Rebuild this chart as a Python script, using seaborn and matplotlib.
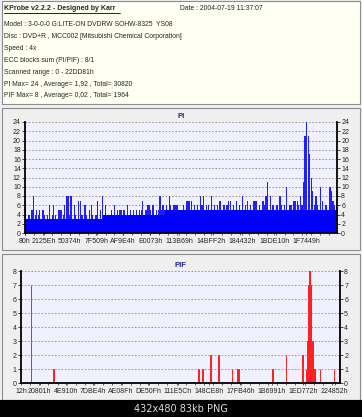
import numpy as np
import pandas as pd
import matplotlib.pyplot as plt
import seaborn as sns
from matplotlib.patches import Rectangle
from matplotlib.lines import Line2D
from matplotlib.ticker import MultipleLocator

# Scan data
END = 0x22DD81

pi_vals = [7, 3, 4, 3, 5, 8, 4, 5, 4, 5,
           2, 5, 4, 3, 4, 6, 3, 4, 6, 4,
           3, 5, 5, 5, 4, 6, 8, 8, 4, 8,
           3, 6, 4, 3, 7, 7, 4, 3, 6, 4,
           3, 5, 6, 4, 3, 4, 7, 3, 5, 8,
           4, 6, 3, 2, 4, 5, 4, 6, 4, 5,
           5, 5, 4, 5, 4, 6, 4, 5, 4, 5,
           4, 5, 4, 5, 5, 7, 4, 5, 6, 6,
           5, 6, 6, 4, 5, 5, 8, 5, 6, 5,
           6, 5, 8, 6, 5, 6, 6, 6, 4, 5,
           5, 6, 5, 7, 7, 7, 7, 5, 6, 5,
           6, 5, 8, 6, 8, 5, 6, 6, 5, 8,
           5, 6, 5, 6, 7, 7, 5, 6, 5, 6,
           7, 7, 5, 6, 5, 7, 5, 6, 5, 8,
           5, 6, 7, 5, 6, 5, 7, 7, 7, 5,
           6, 5, 7, 6, 8, 11, 5, 8, 6, 6,
           5, 6, 5, 8, 6, 5, 6, 10, 5, 6,
           6, 5, 7, 7, 7, 6, 8, 6, 11, 21,
           24, 21, 17, 12, 9, 6, 8, 6, 5, 10,
           7, 5, 6, 6, 5, 10, 9, 7, 6, 7]

# solid lower level of the PI trace, one value per 10 samples
pi_floor = [3, 3, 3, 3, 3, 4, 4, 4, 4, 5,
            5, 5, 5, 5, 5, 5, 5, 5, 5, 5]

pif_pos = [69500, 231500, 1270500, 1299000, 1359000, 1413500, 1420500,
           1509000, 1549500, 1557000, 1803500, 1896500, 2015500,
           2042300, 2051900, 2058700, 2066100, 2073100, 2078200,
           2085300, 2090300, 2099700, 2106700, 2142600, 2243000, 2283000]
pif_vals = [7, 1, 1, 1, 2, 2, 1,
            1, 1, 1, 1, 2, 2,
            1, 3, 7, 8, 7, 5,
            3, 1, 1, 1, 1, 1, 2]

pi_ticks = [0x80, 0x2125E, 0x50374, 0x7F509, 0xAF9E4, 0xE0073, 0x113B69,
            0x14BFF2, 0x184432, 0x1BDE10, 0x1F7449]
pif_ticks = [0x12, 0x20801, 0x4E910, 0x7DBE4, 0xAE08F, 0xDE50F, 0x111E5C,
             0x148CE8, 0x17FB46, 0x1B6991, 0x1ED772, 0x224852]

header = ["Model : 3-0-0-0 G:LITE-ON DVDRW SOHW-8325  YS08",
          "Disc : DVD+R , MCC002 [Mitsubishi Chemical Corporation]",
          "Speed : 4x",
          "ECC blocks sum (PI/PIF) : 8/1",
          "Scanned range : 0 - 22DD81h",
          "PI Max= 24 , Average= 1,92 , Total= 30820",
          "PIF Max= 8 , Average= 0,02 , Total= 1964"]

sns.set_style('white')
plt.rcParams['font.family'] = ['Liberation Sans', 'DejaVu Sans']

W, H = 362, 417
fig = plt.figure(figsize=(W / 100, H / 100), dpi=100, facecolor='#EFEFEF')


def box(x0, y0, x1, y1, fc, ec='#8C8C8C'):
    fig.patches.append(Rectangle((x0 / W, 1 - y1 / H), (x1 - x0) / W, (y1 - y0) / H,
                                 transform=fig.transFigure, fc=fc, ec=ec, lw=0.8,
                                 zorder=-5))


box(2, 1, 360, 104, '#FFFFF2')
box(2, 108, 360, 250, '#EFEFEF')
box(2, 254, 360, 400, '#EFEFEF')
box(0, 400, W, H, 'black', ec='black')

fig.text(4 / W, 1 - 8 / H, "KProbe v2.2.2 - Designed by Karr", fontsize=5,
         fontweight='bold', va='center')
fig.lines.append(Line2D([4 / W, 120 / W], [1 - 13 / H, 1 - 13 / H],
                        transform=fig.transFigure, color='black', lw=0.6))
fig.text(180 / W, 1 - 8 / H, "Date : 2004-07-19 11:37:07", fontsize=4.9, va='center')
for i, line in enumerate(header):
    fig.text(4 / W, 1 - (25 + i * 11.8) / H, line, fontsize=4.9, va='center')
fig.text(0.5, 1 - 409 / H, "432x480 83kb PNG", fontsize=7, color='#DDDDDD',
         ha='center', va='center', family='DejaVu Sans')


def style(ax, ymax, step, ticks):
    ax.set_facecolor('#F0F0FF')
    ax.set_xlim(0, END)
    ax.set_ylim(0, ymax)
    ax.set_yticks(np.arange(0, ymax + 1, step))
    ax.set_xticks(ticks)
    ax.set_xticklabels([f"{t:X}h" for t in ticks])
    ax.xaxis.set_minor_locator(MultipleLocator(0x10000))
    ax.set_xlabel('')
    ax.set_ylabel('')
    ax.tick_params(axis='y', left=True, right=True, labelleft=True, labelright=True,
                   labelsize=5, length=2, width=0.6, pad=1)
    ax.tick_params(axis='x', which='both', bottom=True, labelsize=5, length=1.5,
                   width=0.5, pad=2)
    ax.yaxis.grid(True, ls=(0, (2, 2)), color='#8A8A8A', lw=0.6)
    ax.set_axisbelow(True)
    ax.spines['top'].set_visible(False)
    for s in ('left', 'right', 'bottom'):
        ax.spines[s].set_color('black')
        ax.spines[s].set_linewidth(1.3)


ax1 = fig.add_axes([25 / W, 1 - 233 / H, 312 / W, 111 / H])
edges = np.linspace(0, END, len(pi_vals) + 1)
pi_df = pd.DataFrame({'pos': (edges[:-1] + edges[1:]) / 2, 'val': pi_vals})
sns.histplot(data=pi_df, x='pos', weights='val', bins=len(pi_vals), binrange=(0, END),
             shrink=0.8, ax=ax1, color='#2020FF', alpha=1, linewidth=0)
fedges = np.linspace(0, END, len(pi_floor) + 1)
floor_df = pd.DataFrame({'pos': (fedges[:-1] + fedges[1:]) / 2, 'val': pi_floor})
sns.histplot(data=floor_df, x='pos', weights='val', bins=len(pi_floor),
             binrange=(0, END), ax=ax1, color='#0000FF', alpha=1, linewidth=0)
style(ax1, 24, 2, pi_ticks)
ax1.set_title('PI', fontsize=5.5, fontweight='bold', color='#1C1C8C', pad=3)

ax2 = fig.add_axes([21 / W, 1 - 383 / H, 319 / W, 112 / H])
pif_df = pd.DataFrame({'pos': pif_pos, 'val': pif_vals})
sns.histplot(data=pif_df, x='pos', weights='val', bins=500, binrange=(0, END), ax=ax2,
             color='#FF0000', alpha=1, edgecolor='#FF2020', linewidth=0.7)
style(ax2, 8, 1, pif_ticks)
ax2.set_title('PIF', fontsize=5.5, fontweight='bold', color='#1C1C8C', pad=3)

fig.savefig('out.png', dpi=100, facecolor=fig.get_facecolor())
